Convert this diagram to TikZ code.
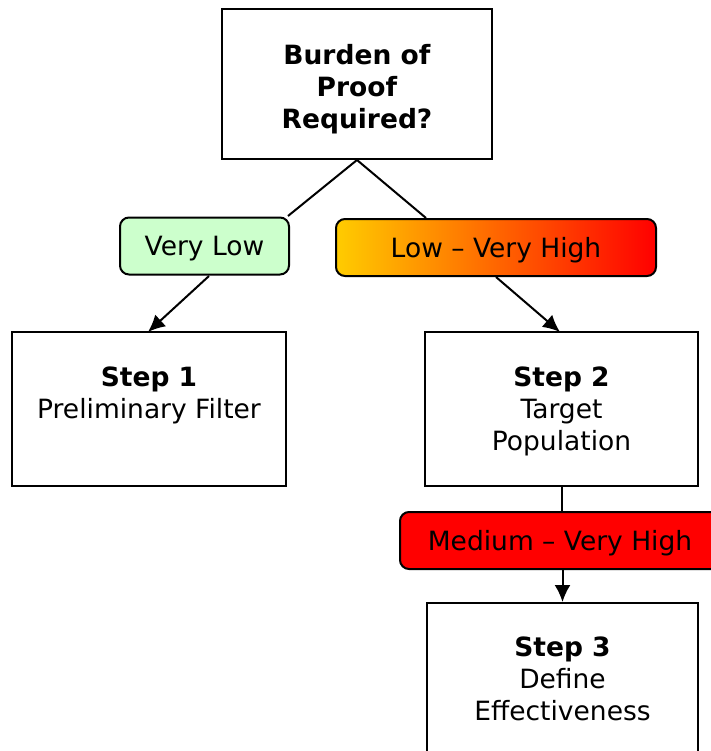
\documentclass[tikz,border=0pt]{standalone}
\usepackage{fontspec}
\setmainfont{DejaVu Sans}
\usetikzlibrary{arrows.meta}
\definecolor{lgreen}{RGB}{204,255,204}
\definecolor{gyel}{RGB}{255,204,0}
\definecolor{gmid}{RGB}{255,140,0}
\definecolor{gred}{RGB}{255,0,0}
\begin{document}
\begin{tikzpicture}[x=1pt,y=-1pt,
  box/.style={draw, line width=2pt, inner sep=0pt},
  tag/.style={draw, line width=2pt, rounded corners=9pt, inner sep=0pt, minimum height=57pt, text height=19.3pt, text depth=0pt, font=\fontsize{26.5}{32}\selectfont},
  txt/.style={anchor=north, inner sep=0pt, align=center, font=\fontsize{26.5}{32}\selectfont},
  conn/.style={line width=2pt},
  arr/.style={conn, -{Latex[length=17pt,width=16pt]}}]
\useasboundingbox (0,0) rectangle (710,751);
% boxes
\node[box, minimum width=270pt, minimum height=150pt] (top) at (357,84) {};
\node[box, minimum width=274pt, minimum height=154pt] (s1) at (149,409) {};
\node[box, minimum width=273pt, minimum height=154pt] (s2) at (561.5,409) {};
\node[box, minimum width=271pt, minimum height=154pt] (s3) at (562.5,680) {};
% texts
\node[txt] (ttop) at (357,43.8) {\textbf{Burden of}\\\textbf{Proof}\\\textbf{Required?}};
\node[txt] (ts1) at (149,366.8) {\textbf{Step 1}\\Preliminary Filter};
\node[txt] (ts2) at (561.5,366.8) {\textbf{Step 2}\\Target\\Population};
\node[txt] (ts3) at (562.5,636.8) {\textbf{Step 3}\\Define\\Effectiveness};
% tags
\node[tag, fill=lgreen, minimum width=169pt] (vl) at (204.5,246) {Very Low};
\node[tag, minimum width=320pt, left color=gyel, middle color=gmid, right color=gred] (lv) at (496,247.5) {Low -- Very High};
\node[tag, fill=gred, minimum width=320pt] (med) at (560,540.5) {Medium -- Very High};
% connectors
\coordinate (p1) at (288,216);
\coordinate (p2) at (426,218);
\coordinate (q1) at (209,276);
\coordinate (e1) at (148,332);
\coordinate (q2) at (496,277);
\coordinate (e2) at (560,332);
\draw[conn] (top.south) -- (p1);
\draw[conn] (top.south) -- (p2);
\draw[arr] (q1) -- (e1);
\draw[arr] (q2) -- (e2);
\draw[conn] (s2.south) -- (s2.south |- med.north);
\draw[arr] (s3.north |- med.south) -- (s3.north);
\end{tikzpicture}
\end{document}
